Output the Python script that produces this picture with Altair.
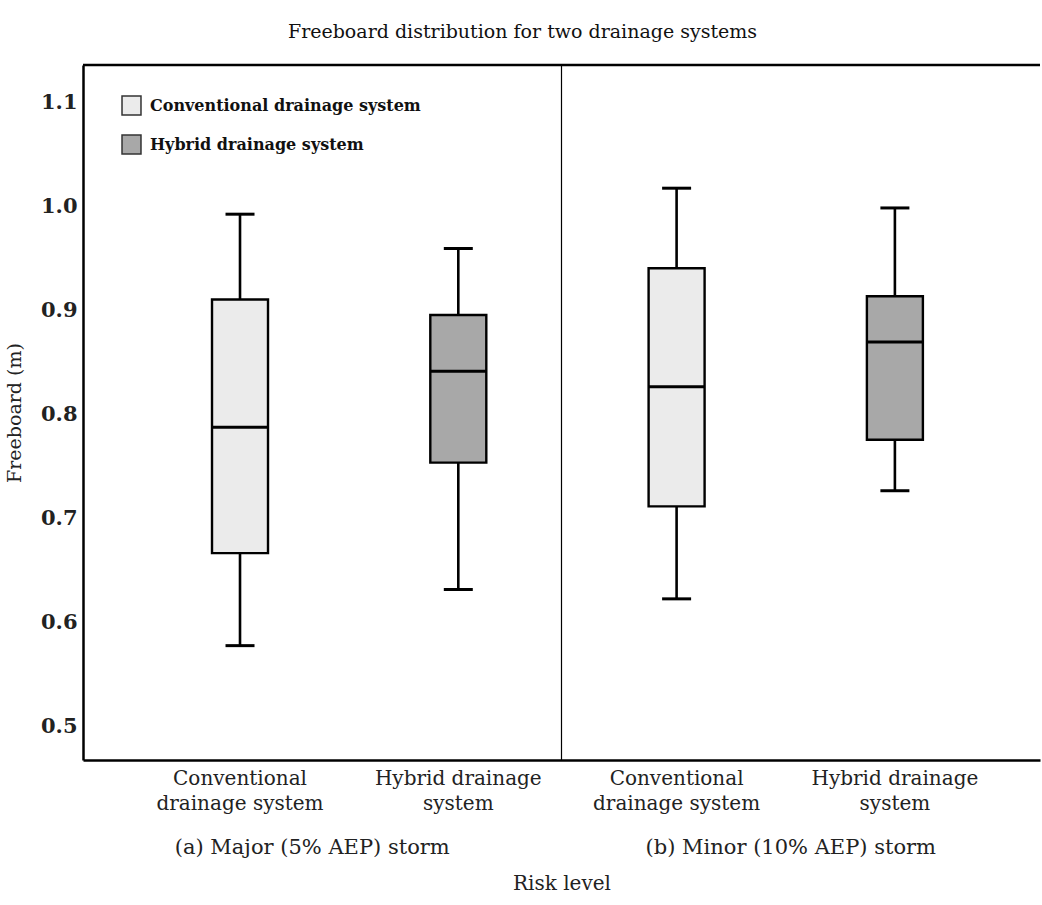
import altair as alt
import pandas as pd

# ---- data ----
storm_codes = ["a", "a", "b", "b"]
storm_captions = ["(a) Major (5% AEP) storm", "(b) Minor (10% AEP) storm"]
systems = ["Conventional drainage system", "Hybrid drainage system",
           "Conventional drainage system", "Hybrid drainage system"]
system_lines = {
    "Conventional drainage system": ["Conventional", "drainage system"],
    "Hybrid drainage system": ["Hybrid drainage", "system"],
}
whisker_low = [0.578, 0.632, 0.623, 0.727]
q1 = [0.667, 0.754, 0.712, 0.776]
median = [0.788, 0.842, 0.827, 0.870]
q3 = [0.911, 0.896, 0.941, 0.914]
whisker_high = [0.993, 0.960, 1.018, 0.999]
y_ticks = [0.5, 0.6, 0.7, 0.8, 0.9, 1.0, 1.1]
legend_systems = ["Conventional drainage system", "Hybrid drainage system"]
fill_colors = ["#ebebeb", "#a8a8a8"]

keys = [f"{s}|{n}" for s, n in zip(storm_codes, systems)]
labels = ["|".join(system_lines[n]) for n in systems]
df = pd.DataFrame({
    "key": keys, "label": labels, "system": systems, "low": whisker_low, "q1": q1,
    "median": median, "q3": q3, "high": whisker_high,
})
divider_df = pd.DataFrame({"storm": [storm_captions[1]]})
frame_df = pd.DataFrame({"one": [1]})

W, H = 957, 695
FONT = "DejaVu Serif"

xscale = alt.Scale(type="band", domain=keys, paddingInner=0, paddingOuter=0.192, align=0.571)
yscale = alt.Scale(domain=[0.468, 1.1365], nice=False, zero=False)

xaxis = alt.Axis(
    title=None, orient="bottom", labels=False, ticks=False,
    domainColor="black", domainWidth=2.5,
)
yaxis = alt.Axis(
    title="Freeboard (m)", values=y_ticks, format=".1f", ticks=False, grid=False,
    domainColor="black", domainWidth=2.5, labelFontSize=21, labelFontWeight="bold",
    labelFont=FONT, labelColor="#222", labelPadding=6, titleFontSize=19,
    titleFontWeight="normal", titleFont=FONT, titleColor="#222", titlePadding=16,
)

base = alt.Chart(df)
x = alt.X("key:N", scale=xscale, axis=xaxis, sort=keys)

whiskers = base.mark_rule(color="black", strokeWidth=2.6).encode(
    x=x, y=alt.Y("low:Q", scale=yscale, axis=yaxis), y2="high:Q"
)
boxes = base.mark_bar(size=56, stroke="black", strokeWidth=2.4).encode(
    x=x, y=alt.Y("q1:Q", scale=yscale), y2="q3:Q",
    fill=alt.Fill("system:N", scale=alt.Scale(domain=legend_systems, range=fill_colors),
                  legend=alt.Legend(title=None, orient="none", legendX=38, legendY=30,
                                    symbolType="square", symbolSize=360,
                                    symbolStrokeColor="#333", symbolStrokeWidth=1.5,
                                    labelFontSize=16, labelFontWeight="bold",
                                    labelFont=FONT, labelColor="#111", labelOffset=8,
                                    labelLimit=0, rowPadding=14)),
)
medians = base.mark_tick(size=56, thickness=3, color="black", opacity=1).encode(
    x=x, y=alt.Y("median:Q", scale=yscale)
)
caps_hi = base.mark_tick(size=29, thickness=3, color="black", opacity=1).encode(
    x=x, y=alt.Y("high:Q", scale=yscale)
)
caps_lo = base.mark_tick(size=29, thickness=3, color="black", opacity=1).encode(
    x=x, y=alt.Y("low:Q", scale=yscale)
)
cat_labels = base.mark_text(
    lineBreak="|", fontSize=20, font=FONT, color="#222", baseline="top",
    lineHeight=25, align="center",
).encode(x=x, y=alt.value(H + 9), text="label:N")

boxplot = alt.layer(whiskers, boxes, medians, caps_hi, caps_lo, cat_labels)

top_border = alt.Chart(frame_df).mark_rule(color="black", strokeWidth=2.5).encode(
    x=alt.value(0), x2=alt.value(W), y=alt.value(0)
)
divider = alt.Chart(divider_df).mark_rule(color="black", strokeWidth=1.2).encode(
    x=alt.X("storm:N", bandPosition=0,
            scale=alt.Scale(type="band", domain=storm_captions, paddingInner=0,
                            paddingOuter=0),
            axis=alt.Axis(orient="bottom", offset=70, domain=False, ticks=False,
                          labelAngle=0, labelFontSize=21, labelFont=FONT,
                          labelColor="#222", labelPadding=6, labelBaseline="top",
                          labelLimit=0, labelOffset=-10,
                          title="Risk level", titleFontSize=20, titleFont=FONT,
                          titleFontWeight="normal", titleColor="#222", titlePadding=16)),
    y=alt.value(0), y2=alt.value(H),
)

chart = alt.layer(boxplot, divider, top_border).resolve_scale(
    x="independent"
).resolve_axis(x="independent").properties(
    width=W, height=H,
    padding={"left": 83, "top": 65, "right": 2, "bottom": 145},
    autosize=alt.AutoSizeParams(type="none"),
    title=alt.Title("Freeboard distribution for two drainage systems", fontSize=19,
                    font=FONT, fontWeight="normal", color="#111", dx=-39, offset=22),
).configure(background="white", font=FONT).configure_view(strokeWidth=0).configure_axis(
    labelFont=FONT, titleFont=FONT
).configure_legend(labelFont=FONT).configure_tick(opacity=1)

chart.save("out.html", embed_options={"renderer": "svg", "actions": False})
